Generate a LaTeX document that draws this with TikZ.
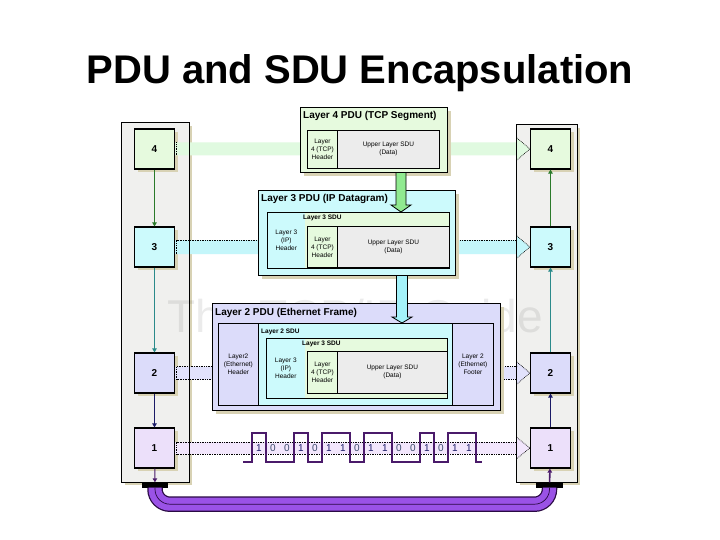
\documentclass[tikz,border=0pt]{standalone}
\usepackage{fontspec}
\setmainfont{Liberation Sans}
\usepackage{xcolor}
\usetikzlibrary{calc,arrows.meta}

\definecolor{panelgray}{HTML}{F0F0EE}
\definecolor{shadowtan}{HTML}{D8D2B4}
\definecolor{lfour}{HTML}{E6FADE}
\definecolor{lthree}{HTML}{CCFAFC}
\definecolor{ltwo}{HTML}{DCDCFA}
\definecolor{lone}{HTML}{ECE0FA}
\definecolor{datagray}{HTML}{ECECEC}
\definecolor{bandfour}{HTML}{E0FAE0}
\definecolor{bandthree}{HTML}{C4F6FA}
\definecolor{bandtwo}{HTML}{E2E2FC}
\definecolor{bandone}{HTML}{F2E6FC}
\definecolor{arrgreen}{HTML}{2A7A2A}
\definecolor{arrteal}{HTML}{2A8A8A}
\definecolor{arrnavy}{HTML}{1A1A66}
\definecolor{arrpurple}{HTML}{4A1A6A}
\definecolor{pipepurple}{HTML}{9A52E6}
\definecolor{pipedark}{HTML}{2A0A44}
\definecolor{blockgreen}{HTML}{90EA90}
\definecolor{blockcyan}{HTML}{A4F2FA}
\definecolor{bitzero}{HTML}{3A4A6A}

\begin{document}
\begin{tikzpicture}[x=1pt,y=-1pt,
  shadowed/.style={preaction={fill=shadowtan,transform canvas={shift={(3pt,-3pt)}}}},
  panel/.style={fill=panelgray,shadowed,inner sep=0pt},
  layerbox/.style={draw,line width=1.2pt,shadowed,minimum width=40pt,minimum height=40pt,inner sep=0pt,font=\fontsize{10}{12}\selectfont\bfseries},
  pdubox/.style={draw,line width=1.1pt,shadowed,anchor=north west,inner sep=0pt},
  pdutitle/.style={anchor=west,inner sep=0pt,font=\fontsize{10}{12}\selectfont\bfseries},
  sdutitle/.style={anchor=west,inner sep=0pt,font=\fontsize{6.5}{8}\selectfont\bfseries},
  cell/.style={draw,line width=0.8pt,anchor=north west,inner sep=0pt,align=center,font=\fontsize{6.5}{8}\selectfont},
  bandline/.style={densely dotted,line width=0.7pt},
  updown/.style={-{Triangle[length=4pt,width=4.5pt]},line width=1pt},
  bit/.style={inner sep=0pt,font=\fontsize{10}{12}\selectfont},
  plug/.style={fill=black,minimum width=26pt,minimum height=5pt,inner sep=0pt}
]
\useasboundingbox[fill=white] (0,0) rectangle (720,540);

% title
\node[anchor=base,font=\fontsize{40}{44}\selectfont\bfseries] (title) at (360,84) {PDU and SDU Encapsulation};

% the two stacks
\node[panel,minimum width=67pt,minimum height=359pt] (lpanel) at (155.5,302.5) {};
\node[panel,minimum width=60pt,minimum height=357pt] (rpanel) at (547,303.5) {};

\node[layerbox,fill=lfour] (l4) at (154.5,149) {4};
\node[layerbox,fill=lthree] (l3) at (154.5,247) {3};
\node[layerbox,fill=ltwo] (l2) at (154.5,373) {2};
\node[layerbox,fill=lone] (l1) at (154.5,448) {1};
\node[layerbox,fill=lfour] (r4) at (550.5,149) {4};
\node[layerbox,fill=lthree] (r3) at (550.5,247) {3};
\node[layerbox,fill=ltwo] (r2) at (550.5,373) {2};
\node[layerbox,fill=lone] (r1) at (550.5,448) {1};

% watermark
\node[anchor=base,opacity=0.08,font=\fontsize{46}{50}\selectfont] (mark) at (355,332) {The TCP/IP Guide};

% peer bands
\fill[bandfour] ($(l4.east)+(0,-6.5)$) -- ($(r4.west)+(-13,-6.5)$) -- ($(r4.west)+(-13,-11)$) -- (r4.west)
  -- ($(r4.west)+(-13,11)$) -- ($(r4.west)+(-13,6.5)$) -- ($(l4.east)+(0,6.5)$) -- cycle;
\draw[bandline] ($(l4.east)+(1.5,-6.5)$) -- ($(l4.east)+(1.5,6.5)$);
\draw[bandline] ($(r4.west)+(-13,-11)$) -- (r4.west) -- ($(r4.west)+(-13,11)$);

\fill[bandthree] ($(l3.east)+(0,-7)$) -- ($(r3.west)+(-13,-7)$) -- ($(r3.west)+(-13,-11)$) -- (r3.west)
  -- ($(r3.west)+(-13,11)$) -- ($(r3.west)+(-13,7)$) -- ($(l3.east)+(0,7)$) -- cycle;
\draw[bandline] ($(l3.east)+(1.5,7)$) -- ($(l3.east)+(1.5,-7)$) -- ($(r3.west)+(-13,-7)$);
\draw[bandline] ($(r3.west)+(-13,-11)$) -- (r3.west) -- ($(r3.west)+(-13,11)$);

\fill[bandtwo] ($(l2.east)+(0,-6.5)$) -- ($(r2.west)+(-13,-6.5)$) -- ($(r2.west)+(-13,-11)$) -- (r2.west)
  -- ($(r2.west)+(-13,11)$) -- ($(r2.west)+(-13,6.5)$) -- ($(l2.east)+(0,6.5)$) -- cycle;
\draw[bandline] ($(r2.west)+(-13,6.5)$) -- ($(l2.east)+(1.5,6.5)$) -- ($(l2.east)+(1.5,-6.5)$) -- ($(r2.west)+(-13,-6.5)$);
\draw[bandline] ($(r2.west)+(-13,-11)$) -- (r2.west) -- ($(r2.west)+(-13,11)$);

\fill[bandone] ($(l1.east)+(0,-6)$) -- ($(r1.west)+(-13,-6)$) -- ($(r1.west)+(-13,-10.5)$) -- (r1.west)
  -- ($(r1.west)+(-13,10.5)$) -- ($(r1.west)+(-13,6)$) -- ($(l1.east)+(0,6)$) -- cycle;
\draw[bandline] ($(r1.west)+(-13,6)$) -- ($(l1.east)+(1.5,6)$) -- ($(l1.east)+(1.5,-6)$) -- ($(r1.west)+(-13,-6)$);
\draw[bandline] ($(r1.west)+(-13,-10.5)$) -- (r1.west) -- ($(r1.west)+(-13,10.5)$);

\draw[line width=0.9pt] (lpanel.north west) rectangle (lpanel.south east);
\draw[line width=0.9pt] (rpanel.north west) rectangle (rpanel.south east);

% layer 4 PDU
\node[pdubox,fill=lfour,minimum width=147pt,minimum height=65pt] (pdu4) at (300,107) {};
\node[pdutitle] (pdu4title) at (303,116) {Layer 4 PDU (TCP Segment)};
\node[cell,fill=lfour,minimum width=30pt,minimum height=38pt] (tcph4) at (307,130) {Layer\\4 (TCP)\\Header};
\node[cell,fill=datagray,minimum width=102pt,minimum height=38pt] (data4) at (337,130) {Upper Layer SDU\\(Data)};

% layer 3 PDU
\node[pdubox,fill=lthree,minimum width=197pt,minimum height=85pt] (pdu3) at (258,190) {};
\node[pdutitle] (pdu3title) at (261,199) {Layer 3 PDU (IP Datagram)};
\node[cell,fill=lfour,minimum width=182pt,minimum height=56pt] (sdu3) at (267,212) {};
\node[cell,draw=none,fill=lthree,minimum width=37pt,minimum height=55pt] (iph3) at (267.4,212.4) {Layer 3\\(IP)\\Header};
\node[sdutitle] (sdu3title) at (303,218) {Layer 3 SDU};
\node[cell,fill=lfour,minimum width=30pt,minimum height=41pt] (tcph3) at (307,226) {Layer\\4 (TCP)\\Header};
\node[cell,fill=datagray,minimum width=112pt,minimum height=41pt] (data3) at (337,226) {Upper Layer SDU\\(Data)};

% layer 2 PDU
\node[pdubox,fill=ltwo,minimum width=288pt,minimum height=107pt] (pdu2) at (212,303) {};
\node[pdutitle] (pdu2title) at (215,313) {Layer 2 PDU (Ethernet Frame)};
\node[cell,fill=lthree,minimum width=275pt,minimum height=82pt] (frame2) at (218,323) {};
\node[cell,fill=ltwo,minimum width=40pt,minimum height=82pt] (ethh) at (218,323) {Layer2\\(Ethernet)\\Header};
\node[cell,fill=ltwo,minimum width=41pt,minimum height=82pt] (ethf) at (452,323) {Layer 2\\(Ethernet)\\Footer};
\node[sdutitle] (sdu2title) at (261,332) {Layer 2 SDU};
\node[cell,fill=lfour,minimum width=181pt,minimum height=60pt] (sdu2) at (266,338) {};
\node[cell,draw=none,fill=lthree,minimum width=38pt,minimum height=59pt] (iph2) at (266.4,338.4) {Layer 3\\(IP)\\Header};
\node[sdutitle] (sdu2inner) at (302,344) {Layer 3 SDU};
\node[cell,fill=lfour,minimum width=30pt,minimum height=42pt] (tcph2) at (307,351) {Layer\\4 (TCP)\\Header};
\node[cell,fill=datagray,minimum width=110pt,minimum height=42pt] (data2) at (337,351) {Upper Layer SDU\\(Data)};

% encapsulation arrows
\coordinate (a4top) at (401,0 |- pdu4.south);
\coordinate (a4tip) at (401,0 |- sdu3.north);
\filldraw[fill=blockgreen,draw=black,line width=0.8pt] ($(a4top)+(-5,0)$) -- ($(a4tip)+(-5,-7)$) -- ($(a4tip)+(-10,-7)$) -- (a4tip)
  -- ($(a4tip)+(10,-7)$) -- ($(a4tip)+(5,-7)$) -- ($(a4top)+(5,0)$);
\coordinate (a3top) at (402,0 |- pdu3.south);
\coordinate (a3tip) at (402,0 |- frame2.north);
\filldraw[fill=blockcyan,draw=black,line width=0.8pt] ($(a3top)+(-5.5,0)$) -- ($(a3tip)+(-5.5,-6)$) -- ($(a3tip)+(-10,-6)$) -- (a3tip)
  -- ($(a3tip)+(10,-6)$) -- ($(a3tip)+(5.5,-6)$) -- ($(a3top)+(5.5,0)$);

% physical layer bits
\draw[arrpurple,line width=1.4pt] (243,462) -- (252,462) -- (252,433) -- (266,433) -- (266,462) -- (294,462) -- (294,433)
  -- (308,433) -- (308,462) -- (322,462) -- (322,433) -- (350,433) -- (350,462) -- (364,462) -- (364,433)
  -- (392,433) -- (392,462) -- (420,462) -- (420,433) -- (434,433) -- (434,462) -- (448,462) -- (448,433)
  -- (476,433) -- (476,462) -- (482,462);
\node[bit,text=arrnavy] (b0) at (259,448) {1};
\node[bit,text=bitzero] (b1) at (273,448) {0};
\node[bit,text=bitzero] (b2) at (287,448) {0};
\node[bit,text=arrnavy] (b3) at (301,448) {1};
\node[bit,text=bitzero] (b4) at (315,448) {0};
\node[bit,text=arrnavy] (b5) at (329,448) {1};
\node[bit,text=arrnavy] (b6) at (343,448) {1};
\node[bit,text=bitzero] (b7) at (357,448) {0};
\node[bit,text=arrnavy] (b8) at (371,448) {1};
\node[bit,text=arrnavy] (b9) at (385,448) {1};
\node[bit,text=bitzero] (b10) at (399,448) {0};
\node[bit,text=bitzero] (b11) at (413,448) {0};
\node[bit,text=arrnavy] (b12) at (427,448) {1};
\node[bit,text=bitzero] (b13) at (441,448) {0};
\node[bit,text=arrnavy] (b14) at (455,448) {1};
\node[bit,text=arrnavy] (b15) at (469,448) {1};

% cable
\node[plug] (lplug) at (155,485) {};
\node[plug,minimum width=27pt] (rplug) at (549.5,485) {};
\draw[pipedark,line width=15.5pt,rounded corners=15pt] (lplug.south) -- ($(lplug.south)+(0,16.5)$) -- ($(rplug.south)+(0,16.5)$) -- (rplug.south);
\draw[pipepurple,line width=13pt,rounded corners=15pt] (lplug.south) -- ($(lplug.south)+(0,16.5)$) -- ($(rplug.south)+(0,16.5)$) -- (rplug.south);
\draw[pipedark,line width=0.7pt,rounded corners=15pt] (lplug.south) -- ($(lplug.south)+(0,16.5)$) -- ($(rplug.south)+(0,16.5)$) -- (rplug.south);

% stack arrows
\draw[updown,arrgreen] (l4) -- (l3);
\draw[updown,arrteal] (l3) -- (l2);
\draw[updown,arrnavy] (l2) -- (l1);
\draw[updown,arrpurple] (l1) -- (lplug);
\draw[updown,arrgreen,line width=1.6pt] (r3) -- (r4);
\draw[updown,arrteal,line width=1.6pt] (r2) -- (r3);
\draw[updown,arrnavy,line width=1.6pt] (r1) -- (r2);
\draw[updown,arrpurple,line width=1.6pt] (rplug) -- (r1);
\end{tikzpicture}
\end{document}
